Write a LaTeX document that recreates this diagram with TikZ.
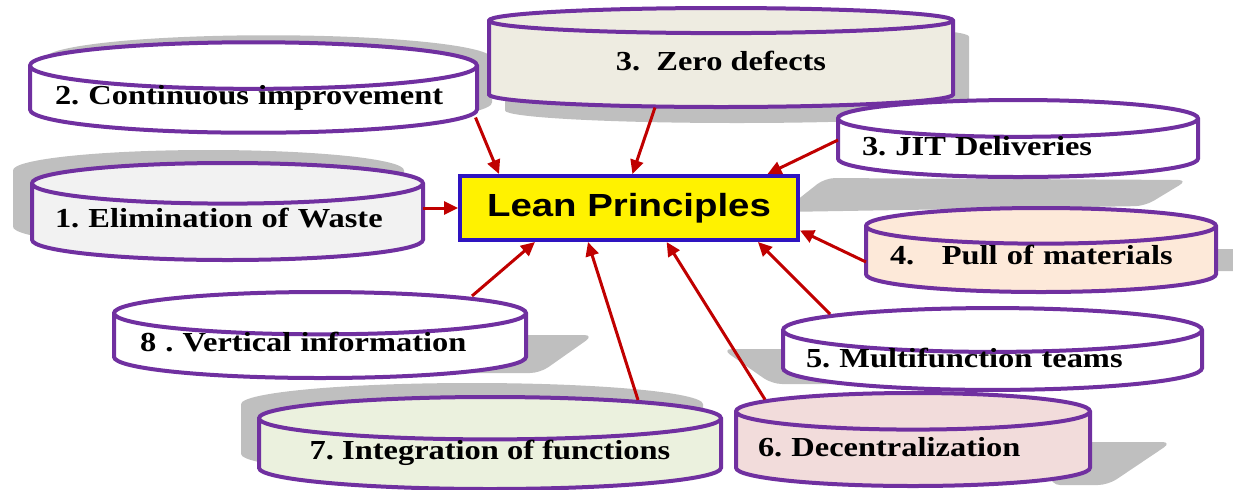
\documentclass[tikz,border=0pt]{standalone}
\usepackage{fontspec}
\newfontfamily\cylfont{Liberation Serif}[FakeStretch=1.18]
\newfontfamily\leanfont{Liberation Sans}[FakeStretch=1.2]
\usepackage{tikz}
\usetikzlibrary{arrows.meta,positioning,shapes.geometric,calc,shadows}
\definecolor{cylpurple}{HTML}{7030A0}
\definecolor{arrred}{HTML}{C00000}
\definecolor{hubblue}{HTML}{2E14C0}
\definecolor{shadegray}{HTML}{BFBFBF}
\definecolor{wastefill}{HTML}{F2F2F2}
\definecolor{defectfill}{HTML}{EEECE1}
\definecolor{pullfill}{HTML}{FDE9D9}
\definecolor{integfill}{HTML}{EBF1DE}
\definecolor{decenfill}{HTML}{F2DCDB}
\frenchspacing

\begin{document}
\begin{tikzpicture}[x=0.5pt,y=-0.5pt,
  cyl/.style ={cylinder,shape border rotate=90,aspect=0.115,draw=cylpurple,
               line width=2pt,fill=white,inner xsep=2pt,inner ysep=0pt,align=left,
               text height=0.7em,text depth=0.45em,
               font=\cylfont\bfseries\fontsize{13.75}{16}\selectfont,anchor=shape center},
  low/.style ={text depth=0.22em},
  shd/.style ={general shadow={fill=shadegray,#1}},
  slant/.style={fill=shadegray,rounded corners=5pt},
  hub/.style ={rectangle,draw=hubblue,line width=2pt,fill=yellow,
               minimum width=169pt,minimum height=32pt,inner sep=0pt,
               font=\leanfont\bfseries\fontsize{16}{18}\selectfont},
  arr/.style ={-{Triangle[length=7pt,width=6.5pt]},line width=1.5pt,draw=arrred}
]
\useasboundingbox (0,0) rectangle (1233,489);

\fill[slant] (825,178) -- (1188,180) -- (1145,206) -- (782,212) -- cycle;
\fill[slant] (1150,249) -- (1250,249) -- (1250,271) -- (1150,271) -- cycle;
\fill[slant] (450,335) -- (594,335) -- (540,373) -- (450,373) -- cycle;
\fill[slant] (722,349) -- (900,349) -- (950,384) -- (772,384) -- cycle;
\fill[slant] (1050,442) -- (1172,442) -- (1108,485) -- (1050,485) -- cycle;

\node[hub] at (629,208) (lean) {Lean Principles};

\node[cyl,shd={shadow xshift=7.5pt,shadow yshift=3.5pt},text width=198.5pt,
      minimum width=223.5pt,minimum height=42.5pt] at (253.5,87.5) (cont)
      {2. Continuous improvement};
\node[cyl,shd={shadow xshift=-9.5pt,shadow yshift=6.5pt},fill=wastefill,text width=172.5pt,
      minimum width=195.5pt,minimum height=48.5pt] at (227.5,211.5) (waste)
      {1. Elimination of Waste};
\node[cyl,low,shd={shadow xshift=8pt,shadow yshift=-8pt},fill=defectfill,align=center,
      minimum width=232pt,minimum height=49.5pt] at (721,57.5) (defect)
      {3.\ \ Zero defects};
\node[cyl,low,text width=156pt,
      minimum width=180pt,minimum height=38.5pt] at (1018,138.5) (jit)
      {3. JIT Deliveries};
\node[cyl,fill=pullfill,text width=151pt,
      minimum width=175pt,minimum height=42pt] at (1041,250) (pull)
      {4.\ \ \ Pull of materials};
\node[cyl,text width=180pt,
      minimum width=206pt,minimum height=43pt] at (320,335) (vert)
      {8 . Vertical information};
\node[cyl,low,text width=186.5pt,
      minimum width=209.5pt,minimum height=39pt] at (992.5,349) (multi)
      {5. Multifunction teams};
\node[cyl,shd={shadow xshift=-9pt,shadow yshift=7pt},fill=integfill,align=center,
      minimum width=231pt,minimum height=46pt] at (490,443) (integ)
      {7. Integration of functions};
\node[cyl,low,fill=decenfill,text width=155pt,
      minimum width=177pt,minimum height=46.5pt] at (913,439.5) (decen)
      {6. Decentralization};

\coordinate (wasteout) at ($(waste.shape center)+(195.5,-3.5)$);

\draw[arr]($(cont.shape center)+(222,30)$)--($(lean.north west)!0.12!(lean.north east)$);
\draw[arr]($(defect.shape center)+(-66,50)$)--($(lean.north west)!0.51!(lean.north east)$);
\draw[arr]($(jit.shape center)+(-180,1.5)$)--($(lean.north west)!0.905!(lean.north east)$);
\draw[arr](wasteout)--(wasteout-|lean.west);
\draw[arr]($(pull.shape center)+(-175,12)$)--($(lean.north east)!0.83!(lean.south east)$);
\draw[arr]($(vert.shape center)+(152,-39)$)--($(lean.south west)!0.225!(lean.south east)$);
\draw[arr]($(integ.shape center)+(148,-43)$)--($(lean.south west)!0.38!(lean.south east)$);
\draw[arr]($(decen.shape center)+(-148,-40)$)--($(lean.south west)!0.61!(lean.south east)$);
\draw[arr]($(multi.shape center)+(-162.5,-35)$)--($(lean.south west)!0.877!(lean.south east)$);
\end{tikzpicture}
\end{document}
